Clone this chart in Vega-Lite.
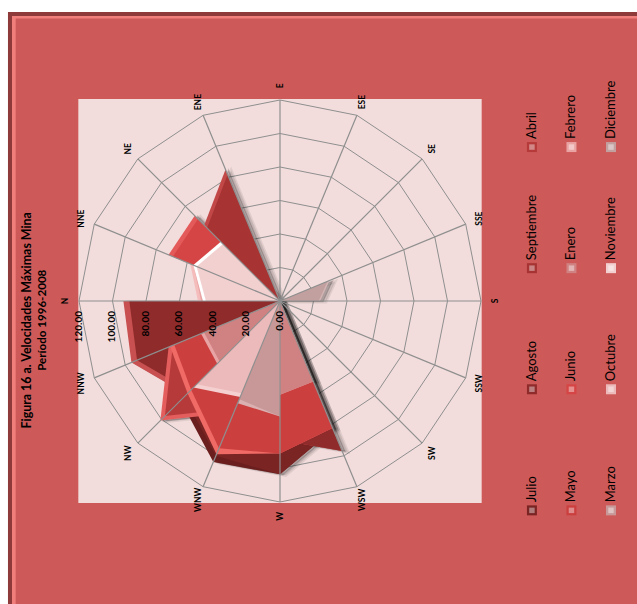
{
  "$schema": "https://vega.github.io/schema/vega-lite/v6.json",
  "width": 637,
  "height": 604,
  "padding": 0,
  "autosize": "none",
  "background": "white",
  "config": {"axis": {"disable": true}, "view": {"stroke": null}},
  "data": {"values": [{"sheet": "frame"}]},
  "datasets": {
    "wind": [
      {"dir":"N","bearing":0,"Julio":0,"Agosto":93.5,"Septiembre":0,"Abril":0,"Mayo":0,"Junio":0,"Enero":0,"Febrero":49,"Marzo":0,"Octubre":0,"Noviembre":46,"Diciembre":0},
      {"dir":"NNE","bearing":22.5,"Julio":0,"Agosto":0,"Septiembre":0,"Abril":0,"Mayo":0,"Junio":72,"Enero":0,"Febrero":58,"Marzo":0,"Octubre":0,"Noviembre":56,"Diciembre":0},
      {"dir":"NE","bearing":45,"Julio":0,"Agosto":0,"Septiembre":64,"Abril":0,"Mayo":0,"Junio":72,"Enero":0,"Febrero":0,"Marzo":0,"Octubre":0,"Noviembre":50,"Diciembre":0},
      {"dir":"ENE","bearing":67.5,"Julio":0,"Agosto":0,"Septiembre":85,"Abril":0,"Mayo":0,"Junio":0,"Enero":0,"Febrero":0,"Marzo":0,"Octubre":0,"Noviembre":0,"Diciembre":0},
      {"dir":"E","bearing":90,"Julio":0,"Agosto":0,"Septiembre":0,"Abril":0,"Mayo":0,"Junio":0,"Enero":0,"Febrero":0,"Marzo":0,"Octubre":0,"Noviembre":0,"Diciembre":0},
      {"dir":"ESE","bearing":112.5,"Julio":0,"Agosto":0,"Septiembre":0,"Abril":0,"Mayo":0,"Junio":0,"Enero":0,"Febrero":0,"Marzo":0,"Octubre":0,"Noviembre":0,"Diciembre":0},
      {"dir":"SE","bearing":135,"Julio":0,"Agosto":0,"Septiembre":0,"Abril":0,"Mayo":0,"Junio":0,"Enero":0,"Febrero":0,"Marzo":0,"Octubre":0,"Noviembre":0,"Diciembre":0},
      {"dir":"SSE","bearing":157.5,"Julio":0,"Agosto":0,"Septiembre":0,"Abril":0,"Mayo":0,"Junio":0,"Enero":0,"Febrero":0,"Marzo":0,"Octubre":0,"Noviembre":0,"Diciembre":32},
      {"dir":"S","bearing":180,"Julio":0,"Agosto":0,"Septiembre":0,"Abril":0,"Mayo":0,"Junio":0,"Enero":0,"Febrero":0,"Marzo":0,"Octubre":0,"Noviembre":0,"Diciembre":24},
      {"dir":"SSW","bearing":202.5,"Julio":0,"Agosto":0,"Septiembre":0,"Abril":0,"Mayo":0,"Junio":0,"Enero":0,"Febrero":0,"Marzo":0,"Octubre":0,"Noviembre":0,"Diciembre":0},
      {"dir":"SW","bearing":225,"Julio":0,"Agosto":0,"Septiembre":0,"Abril":0,"Mayo":0,"Junio":0,"Enero":0,"Febrero":0,"Marzo":0,"Octubre":0,"Noviembre":0,"Diciembre":0},
      {"dir":"WSW","bearing":247.5,"Julio":83,"Agosto":97,"Septiembre":0,"Abril":0,"Mayo":82,"Junio":0,"Enero":52,"Febrero":0,"Marzo":0,"Octubre":0,"Noviembre":0,"Diciembre":0},
      {"dir":"W","bearing":270,"Julio":103.5,"Agosto":83,"Septiembre":0,"Abril":60,"Mayo":91,"Junio":0,"Enero":56,"Febrero":0,"Marzo":69,"Octubre":0,"Noviembre":0,"Diciembre":0},
      {"dir":"WNW","bearing":292.5,"Julio":104,"Agosto":70,"Septiembre":0,"Abril":72,"Mayo":99,"Junio":0,"Enero":45,"Febrero":0,"Marzo":66,"Octubre":62,"Noviembre":0,"Diciembre":0},
      {"dir":"NW","bearing":315,"Julio":84,"Agosto":79,"Septiembre":0,"Abril":101,"Mayo":78,"Junio":0,"Enero":53,"Febrero":0,"Marzo":0,"Octubre":73,"Noviembre":0,"Diciembre":0},
      {"dir":"NNW","bearing":337.5,"Julio":0,"Agosto":96,"Septiembre":0,"Abril":72,"Mayo":71,"Junio":0,"Enero":51,"Febrero":0,"Marzo":0,"Octubre":0,"Noviembre":0,"Diciembre":0}
    ],
    "ticks": [{"tick":0},{"tick":20},{"tick":40},{"tick":60},{"tick":80},{"tick":100},{"tick":120}],
    "months": [
      {"month":"Abril","column":0,"slot":0},
      {"month":"Septiembre","column":0,"slot":1},
      {"month":"Agosto","column":0,"slot":2},
      {"month":"Julio","column":0,"slot":3},
      {"month":"Febrero","column":1,"slot":0},
      {"month":"Enero","column":1,"slot":1},
      {"month":"Junio","column":1,"slot":2},
      {"month":"Mayo","column":1,"slot":3},
      {"month":"Diciembre","column":2,"slot":0},
      {"month":"Noviembre","column":2,"slot":1},
      {"month":"Octubre","column":2,"slot":2},
      {"month":"Marzo","column":2,"slot":3}
    ]
  },
  "layer": [
    {
      "mark": {"type": "rect", "fill": "#8e3a3a"},
      "encoding": {
        "x": {"datum": -162.4, "type": "quantitative", "scale": {"domain": [-167.16, 213.13], "nice": false, "zero": false}},
        "x2": {"datum": 213.13},
        "y": {"datum": 172.5, "type": "quantitative", "scale": {"domain": [-180.9, 179.7], "nice": false, "zero": false}},
        "y2": {"datum": -180.9}
      }
    },
    {
      "mark": {"type": "rect", "fill": "#f07f7c"},
      "encoding": {
        "x": {"datum": -160, "type": "quantitative"},
        "x2": {"datum": 213.13},
        "y": {"datum": 170.2, "type": "quantitative"},
        "y2": {"datum": -180.9}
      }
    },
    {
      "mark": {"type": "rect", "fill": "#cd5a58"},
      "encoding": {
        "x": {"datum": -157.8, "type": "quantitative"},
        "x2": {"datum": 213.13},
        "y": {"datum": 168.6, "type": "quantitative"},
        "y2": {"datum": -180.9}
      }
    },
    {
      "mark": {"type": "rect", "fill": "#f2dddc"},
      "encoding": {
        "x": {"datum": -120.4, "type": "quantitative"},
        "x2": {"datum": 120.4},
        "y": {"datum": 120.6, "type": "quantitative"},
        "y2": {"datum": -120.6}
      }
    },
    {
      "data": {"name": "wind"},
      "transform": [
        {"calculate": "[20,40,60,80,100,120]", "as": "rings"},
        {"flatten": ["rings"]},
        {"calculate": "-datum.rings*cos(datum.bearing*PI/180)", "as": "gx"},
        {"calculate": "datum.rings*sin(datum.bearing*PI/180)", "as": "gy"}
      ],
      "mark": {"type": "line", "interpolate": "linear-closed", "stroke": "#8f8f8f", "strokeWidth": 1},
      "encoding": {
        "x": {"field": "gx", "type": "quantitative"},
        "y": {"field": "gy", "type": "quantitative"},
        "detail": {"field": "rings"},
        "order": {"field": "bearing"}
      }
    },
    {
      "data": {"name": "wind"},
      "transform": [
        {"fold": ["Julio","Agosto","Septiembre","Abril","Mayo","Junio","Enero","Febrero","Marzo","Octubre","Noviembre","Diciembre"], "as": ["month","speed"]}
      ],
      "layer": [
        {
          "transform": [
            {"calculate": "-datum.speed*cos(datum.bearing*PI/180)+3.4", "as": "sx"},
            {"calculate": "datum.speed*sin(datum.bearing*PI/180)-0.6", "as": "sy"}
          ],
          "mark": {"type": "line", "filled": true, "interpolate": "linear-closed", "fill": "#000000", "fillOpacity": 0.1, "stroke": "#000000", "strokeOpacity": 0.08, "strokeWidth": 3},
          "encoding": {
            "x": {"field": "sx", "type": "quantitative"},
            "y": {"field": "sy", "type": "quantitative"},
            "detail": {"field": "month"},
            "order": {"field": "bearing"}
          }
        },
        {
          "transform": [
            {"calculate": "-datum.speed*cos(datum.bearing*PI/180)+1.8", "as": "sx"},
            {"calculate": "datum.speed*sin(datum.bearing*PI/180)-0.3", "as": "sy"}
          ],
          "mark": {"type": "line", "filled": true, "interpolate": "linear-closed", "fill": "#000000", "fillOpacity": 0.2, "stroke": "#000000", "strokeOpacity": 0.15, "strokeWidth": 1.5},
          "encoding": {
            "x": {"field": "sx", "type": "quantitative"},
            "y": {"field": "sy", "type": "quantitative"},
            "detail": {"field": "month"},
            "order": {"field": "bearing"}
          }
        },
        {
          "transform": [
            {"calculate": "[0,1]", "as": "pass"},
            {"flatten": ["pass"]},
            {"calculate": "datum.month+datum.pass", "as": "shade"},
            {"calculate": "datum.speed*((datum.pass==0||(datum.bearing>=225&&datum.bearing<=270))?1:0.962)", "as": "reach"},
            {"calculate": "-datum.reach*cos(datum.bearing*PI/180)", "as": "px"},
            {"calculate": "datum.reach*sin(datum.bearing*PI/180)", "as": "py"}
          ],
          "mark": {"type": "line", "filled": true, "interpolate": "linear-closed", "strokeWidth": 0},
          "encoding": {
            "x": {"field": "px", "type": "quantitative"},
            "y": {"field": "py", "type": "quantitative"},
            "fill": {"field": "shade", "type": "nominal", "legend": null, "scale": {
              "domain": ["Julio0","Julio1","Agosto0","Agosto1","Septiembre0","Septiembre1","Abril0","Abril1","Mayo0","Mayo1","Junio0","Junio1","Enero0","Enero1","Febrero0","Febrero1","Marzo0","Marzo1","Octubre0","Octubre1","Noviembre0","Noviembre1","Diciembre0","Diciembre1"],
              "range": ["#6b1e1e","#7b2424","#c85050","#8f2b2b","#c24848","#a73333","#e45e5e","#b63a3a","#f06a66","#cc3f3f","#e45a5a","#d64545","#e8a4a4","#d08282","#f5bcbc","#e9a3a3","#dab0b0","#c89898","#f5d0d0","#ecbaba","#ffffff","#f3d0d0","#d4b4b4","#c2a0a0"]
            }},
            "order": {"field": "bearing"}
          }
        }
      ]
    },
    {
      "data": {"name": "wind"},
      "transform": [
        {"calculate": "-120*cos(datum.bearing*PI/180)", "as": "ex"},
        {"calculate": "120*sin(datum.bearing*PI/180)", "as": "ey"}
      ],
      "mark": {"type": "rule", "stroke": "#8f8f8f", "strokeWidth": 1.2},
      "encoding": {
        "x": {"field": "ex", "type": "quantitative"},
        "y": {"field": "ey", "type": "quantitative"},
        "x2": {"datum": 0},
        "y2": {"datum": 0}
      }
    },
    {
      "data": {"name": "wind"},
      "transform": [
        {"calculate": "-128.5*cos(datum.bearing*PI/180)", "as": "lx"},
        {"calculate": "128.5*sin(datum.bearing*PI/180)", "as": "ly"}
      ],
      "mark": {"type": "text", "angle": 270, "font": "Lato", "fontWeight": "bold", "fontSize": 8.5, "color": "#000000", "align": "center", "baseline": "middle"},
      "encoding": {
        "x": {"field": "lx", "type": "quantitative"},
        "y": {"field": "ly", "type": "quantitative"},
        "text": {"field": "dir"}
      }
    },
    {
      "data": {"name": "ticks"},
      "transform": [{"calculate": "-datum.tick", "as": "tx"}],
      "mark": {"type": "text", "angle": 270, "font": "Lato", "fontWeight": "bold", "fontSize": 10, "color": "#000000", "align": "right", "baseline": "middle", "dx": -10},
      "encoding": {
        "x": {"field": "tx", "type": "quantitative"},
        "y": {"datum": 0, "type": "quantitative"},
        "text": {"field": "tick", "type": "quantitative", "format": ".2f"}
      }
    },
    {
      "mark": {"type": "text", "angle": 270, "font": "Lato", "fontWeight": "bold", "fontSize": 12.4, "color": "#000000", "align": "center", "baseline": "middle"},
      "encoding": {
        "x": {"datum": -151, "type": "quantitative"},
        "y": {"datum": -11.5, "type": "quantitative"},
        "text": {"value": "Figura 16 a. Velocidades Máximas Mina"}
      }
    },
    {
      "mark": {"type": "text", "angle": 270, "font": "Lato", "fontWeight": "bold", "fontSize": 11.6, "color": "#000000", "align": "center", "baseline": "middle"},
      "encoding": {
        "x": {"datum": -141.5, "type": "quantitative"},
        "y": {"datum": -11.5, "type": "quantitative"},
        "text": {"value": "Período 1996-2008"}
      }
    },
    {
      "data": {"name": "months"},
      "transform": [
        {"calculate": "150.4+datum.column*23.6", "as": "lx"},
        {"calculate": "91.9-datum.slot*72.3", "as": "ly"},
        {"calculate": "datum.month+'1'", "as": "shade"}
      ],
      "layer": [
        {
          "mark": {"type": "point", "shape": "square", "filled": true, "size": 100, "opacity": 1},
          "encoding": {
            "x": {"field": "lx", "type": "quantitative"},
            "y": {"field": "ly", "type": "quantitative"},
            "fill": {"field": "shade", "type": "nominal", "legend": null}
          }
        },
        {
          "mark": {"type": "point", "shape": "square", "filled": true, "size": 30, "fill": "#ffffff", "opacity": 0.4},
          "encoding": {
            "x": {"field": "lx", "type": "quantitative"},
            "y": {"field": "ly", "type": "quantitative"}
          }
        },
        {
          "mark": {"type": "text", "angle": 270, "font": "Lato", "fontSize": 13, "color": "#000000", "align": "left", "baseline": "middle", "dx": 8},
          "encoding": {
            "x": {"field": "lx", "type": "quantitative"},
            "y": {"field": "ly", "type": "quantitative"},
            "text": {"field": "month"}
          }
        }
      ]
    }
  ]
}
